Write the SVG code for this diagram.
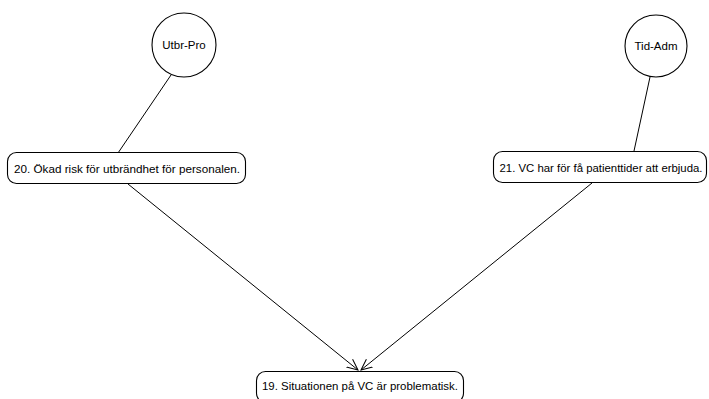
<svg xmlns="http://www.w3.org/2000/svg" width="709" height="399" viewBox="0 0 709 399">
<style>
.n{fill:#fff;stroke:#000;stroke-width:1.1}
.t{font-family:"Liberation Sans",Arial,sans-serif;font-size:11.5px;fill:#000}
.c{stroke:#000;stroke-width:1;fill:none}
</style>
<defs>
<marker id="a" viewBox="0 0 12 12" refX="11" refY="6" markerWidth="12" markerHeight="12" markerUnits="userSpaceOnUse" orient="auto">
<path d="M0,1 L11,6 L0,11" fill="none" stroke="#000" stroke-width="1"/>
</marker>
</defs>
<rect width="709" height="399" fill="#fff"/>
<g id="connectors">
<line class="c" x1="171" y1="75" x2="118" y2="153"/>
<line class="c" x1="650" y1="77" x2="634" y2="151"/>
<line class="c" x1="128" y1="184" x2="358" y2="370" marker-end="url(#a)"/>
<line class="c" x1="592" y1="183" x2="361" y2="370" marker-end="url(#a)"/>
</g>
<g id="utbr-pro">
<circle class="n" cx="184" cy="45" r="32"/>
<text class="t" x="184" y="49" text-anchor="middle">Utbr-Pro</text>
</g>
<g id="tid-adm">
<circle class="n" cx="656" cy="46" r="31"/>
<text class="t" x="656" y="50" text-anchor="middle">Tid-Adm</text>
</g>
<g id="n20">
<rect class="n" x="7.5" y="152.5" width="238" height="31" rx="9"/>
<text class="t" x="127" y="172.5" text-anchor="middle" textLength="226" lengthAdjust="spacingAndGlyphs">20. Ökad risk för utbrändhet för personalen.</text>
</g>
<g id="n21">
<rect class="n" x="493.5" y="151.5" width="213" height="31" rx="9"/>
<text class="t" x="601" y="171.5" text-anchor="middle" textLength="203" lengthAdjust="spacingAndGlyphs">21. VC har för få patienttider att erbjuda.</text>
</g>
<g id="n19">
<rect class="n" x="256.5" y="371.5" width="207" height="31" rx="9"/>
<text class="t" x="360" y="390" text-anchor="middle" textLength="196" lengthAdjust="spacingAndGlyphs">19. Situationen på VC är problematisk.</text>
</g>
</svg>
